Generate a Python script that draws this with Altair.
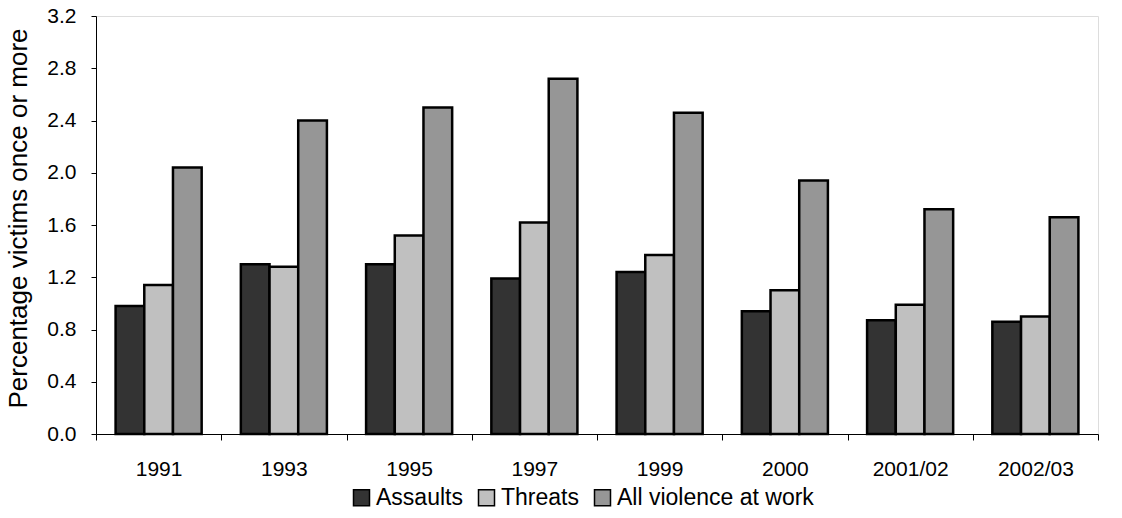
import altair as alt
import pandas as pd

years = ["1991", "1993", "1995", "1997", "1999", "2000", "2001/02", "2002/03"]
series = ["Assaults", "Threats", "All violence at work"]
assaults = [0.98, 1.30, 1.30, 1.19, 1.24, 0.94, 0.87, 0.86]
threats = [1.14, 1.28, 1.52, 1.62, 1.37, 1.10, 0.99, 0.90]
all_violence = [2.04, 2.40, 2.50, 2.72, 2.46, 1.94, 1.72, 1.66]
y_ticks = [0.0, 0.4, 0.8, 1.2, 1.6, 2.0, 2.4, 2.8, 3.2]
colors = ["#333333", "#C0C0C0", "#969696"]

rows = []
for name, vals in zip(series, [assaults, threats, all_violence]):
    for yr, v in zip(years, vals):
        rows.append({"year": yr, "series": name, "value": v})
df = pd.DataFrame(rows)

FONT = "Liberation Sans"

chart = alt.Chart(df).mark_bar(stroke="black", strokeWidth=2.5).encode(
    x=alt.X("year:N", sort=years, title=None,
            scale=alt.Scale(paddingInner=0, paddingOuter=0),
            axis=alt.Axis(labelAngle=0, tickBand="extent", ticks=True, tickSize=6,
                          tickColor="#000000", domainColor="#000000",
                          labelFont=FONT, labelFontSize=21, labelColor="#000000",
                          labelPadding=18)),
    xOffset=alt.XOffset("series:N", sort=series,
                        scale=alt.Scale(paddingInner=0, paddingOuter=0.683)),
    y=alt.Y("value:Q", title="Percentage victims once or more",
            scale=alt.Scale(domain=[0, 3.2], nice=False),
            axis=alt.Axis(values=y_ticks, format=".1f", grid=False, tickSize=5,
                          tickColor="#000000", domainColor="#000000",
                          labelFont=FONT, labelFontSize=21, labelColor="#000000",
                          labelPadding=15,
                          titleFont=FONT, titleFontSize=26, titleFontWeight="normal",
                          titleColor="#000000", titleX=-78, titleY=202,
                          titleBaseline="middle", titleAngle=270)),
    color=alt.Color("series:N", sort=series,
                    scale=alt.Scale(domain=series, range=colors),
                    legend=alt.Legend(title=None, orient="none", direction="horizontal",
                                      legendX=254, legendY=470,
                                      symbolType="square", symbolSize=256,
                                      symbolStrokeColor="#000000", symbolStrokeWidth=1.5,
                                      symbolOpacity=1, labelLimit=0,
                                      labelFont=FONT, labelFontSize=23, labelColor="#000000",
                                      labelOffset=3, columnPadding=12)),
).properties(
    width=1002, height=418,
    autosize=alt.AutoSizeParams(type="none"),
    padding={"left": 96, "top": 16, "right": 24, "bottom": 84},
).configure_view(stroke=None).configure(background="white")

chart.save("out.html", embed_options={"renderer": "svg", "actions": False})
